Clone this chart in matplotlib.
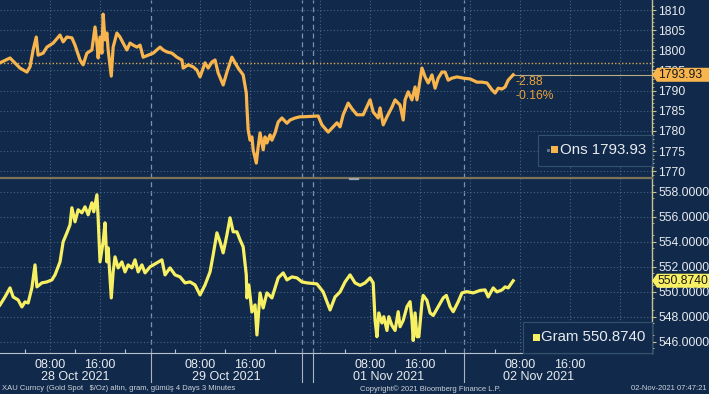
"""
Gold spot (ons) and gram gold, 4 days of 3-minute bars, Bloomberg style
"""

import matplotlib
matplotlib.use("Agg")
import matplotlib.pyplot as plt
from matplotlib.patches import Rectangle, Polygon
from matplotlib.lines import Line2D
from matplotlib.transforms import IdentityTransform, blended_transform_factory

plt.rcParams['font.family'] = ['Liberation Sans', 'DejaVu Sans']

# time axis: hours on the compressed session axis (0 = 28 Oct 00:00, weekend squeezed out)
ons_hours = [0.0, 1.6, 3.2, 4.3, 4.8, 5.3, 5.8, 6.1, 6.9, 7.5, 8.5, 9.6, 10.1, 10.7, 11.5, 12.0,
             12.8, 13.3, 13.9, 14.7, 15.2, 15.5, 15.7, 16.0, 16.3, 16.5, 16.8, 17.1, 17.3, 17.8,
             18.1, 18.7, 19.2, 19.7, 20.3, 20.8, 21.3, 21.9, 22.4, 22.9, 23.7, 24.5, 25.6, 26.1,
             26.7, 27.5, 28.3, 29.1, 29.3, 30.1, 30.9, 31.5, 32.0, 32.8, 33.3, 33.9, 34.4, 34.9,
             35.7, 36.3, 37.1, 37.6, 38.1, 38.9, 39.4, 39.5, 39.7, 40.0, 40.3, 40.5, 41.0, 41.3,
             41.6, 42.1, 42.4, 42.7, 43.2, 43.5, 44.0, 44.5, 45.1, 45.9, 46.4, 47.2, 48.0, 48.5,
             50.9, 51.5, 52.5, 53.1, 53.9, 54.4, 54.9, 55.7, 56.3, 57.1, 58.1, 59.2, 59.7, 60.5,
             60.8, 61.3, 61.9, 62.7, 63.2, 64.0, 64.5, 64.8, 65.3, 65.9, 66.4, 66.7, 67.2, 67.5,
             68.0, 68.5, 69.1, 69.6, 70.1, 70.7, 71.2, 71.7, 72.3, 73.1, 74.1, 75.2, 76.3, 77.1,
             77.9, 78.7, 79.2, 79.7, 80.3, 80.8, 81.3, 82.1]
ons_price = [1796.9, 1798.1, 1795.6, 1794.6, 1795.9, 1800.1, 1803.3, 1798.8, 1799.3, 1800.8,
             1801.8, 1803.8, 1802.1, 1803.3, 1803.1, 1801.3, 1797.6, 1796.4, 1799.3, 1800.1,
             1805.8, 1801.8, 1798.1, 1803.3, 1799.3, 1809.0, 1802.6, 1804.3, 1800.1, 1793.6,
             1800.8, 1804.3, 1803.3, 1801.8, 1800.1, 1801.8, 1801.3, 1800.8, 1801.3, 1798.3,
             1798.8, 1799.3, 1800.8, 1800.1, 1799.6, 1799.3, 1798.3, 1797.6, 1795.6, 1796.4,
             1795.9, 1795.1, 1793.4, 1796.9, 1795.6, 1797.1, 1797.6, 1794.4, 1791.4, 1794.6,
             1798.3, 1796.9, 1795.6, 1793.9, 1789.4, 1785.9, 1780.2, 1777.7, 1778.5, 1775.3,
             1772.0, 1776.0, 1779.5, 1775.3, 1778.5, 1777.0, 1779.0, 1777.7, 1779.5, 1782.2,
             1783.2, 1781.9, 1782.7, 1783.2, 1783.5, 1783.5, 1783.7, 1781.5, 1779.7, 1780.7,
             1782.0, 1781.0, 1784.0, 1786.9, 1785.5, 1784.0, 1784.0, 1787.7, 1784.7, 1783.2,
             1785.7, 1781.5, 1783.5, 1785.9, 1787.7, 1786.4, 1782.7, 1787.7, 1789.7, 1787.7,
             1790.9, 1787.7, 1792.6, 1795.6, 1793.4, 1791.9, 1793.9, 1790.6, 1793.1, 1794.6,
             1794.6, 1792.6, 1793.1, 1793.4, 1793.1, 1792.9, 1792.1, 1792.1, 1791.9, 1790.2,
             1789.4, 1790.6, 1790.4, 1790.9, 1792.6, 1793.93]

gram_hours = [0.0, 0.8, 1.6, 2.1, 2.9, 3.5, 4.0, 4.5, 5.1, 5.6, 5.9, 6.7, 7.5, 8.3, 8.8, 9.6,
              10.1, 10.7, 11.2, 11.5, 12.0, 12.5, 13.1, 13.6, 14.1, 14.7, 15.0, 15.5, 15.7, 16.0,
              16.5, 16.8, 17.1, 17.3, 17.8, 18.1, 18.4, 18.9, 19.5, 20.0, 20.5, 21.1, 21.6, 22.1,
              22.7, 23.2, 24.0, 25.1, 25.9, 26.4, 27.2, 28.0, 28.8, 29.6, 30.4, 31.2, 32.0, 32.8,
              33.6, 34.1, 34.7, 35.2, 35.7, 36.3, 36.8, 37.3, 37.9, 38.4, 38.9, 39.4, 39.5, 39.8,
              40.3, 40.8, 41.1, 41.6, 42.1, 42.7, 43.5, 44.0, 44.5, 45.3, 45.9, 46.7, 47.5, 48.3,
              49.1, 50.7, 51.7, 52.8, 53.6, 54.4, 55.2, 56.0, 56.8, 57.6, 58.4, 59.2, 59.7, 60.0,
              60.3, 60.6, 61.1, 61.4, 61.9, 62.2, 62.7, 63.2, 63.7, 64.0, 64.5, 65.1, 65.6, 65.9,
              66.1, 66.4, 66.7, 67.0, 67.5, 67.7, 68.3, 68.8, 69.3, 70.1, 70.9, 71.4, 72.0, 72.5,
              73.3, 73.9, 74.7, 75.7, 76.8, 77.6, 78.1, 78.9, 79.5, 80.3, 80.8, 81.3, 82.1]
gram_price = [548.94, 549.58, 550.30, 549.58, 549.34, 548.78, 549.18, 549.10, 550.30, 552.14,
              550.38, 550.70, 550.78, 550.94, 551.34, 552.38, 553.98, 554.70, 555.34, 556.70,
              555.58, 556.54, 556.30, 556.78, 556.14, 557.10, 556.38, 557.74, 555.90, 552.38,
              553.98, 555.50, 552.38, 553.50, 549.50, 551.58, 552.78, 551.90, 552.38, 551.58,
              552.14, 551.90, 552.54, 551.58, 552.14, 551.50, 551.98, 552.30, 552.54, 551.34,
              551.90, 551.34, 551.18, 550.70, 550.78, 550.54, 549.74, 550.54, 551.58, 552.94,
              554.70, 553.98, 553.10, 554.54, 555.90, 554.78, 554.78, 554.14, 553.58, 551.34,
              549.50, 550.54, 548.38, 548.94, 546.54, 549.90, 548.70, 549.90, 549.50, 550.30,
              551.10, 551.50, 550.94, 551.18, 551.10, 550.78, 550.70, 550.62, 549.98, 548.54,
              549.58, 549.98, 550.78, 551.34, 550.70, 550.50, 550.70, 551.10, 550.70, 547.70,
              546.40, 548.30, 547.50, 548.00, 546.90, 548.00, 547.30, 546.90, 548.40, 547.20,
              547.70, 548.80, 549.20, 547.70, 546.10, 548.30, 546.40, 546.40, 549.10, 549.70,
              549.30, 548.30, 548.10, 548.80, 549.50, 549.70, 548.80, 548.40, 549.20, 549.90,
              550.00, 549.90, 550.10, 550.14, 549.58, 550.30, 549.98, 550.14, 550.38, 550.30,
              550.874]

ons_prev_close = 1796.81
ons_change = -2.88
ons_change_pct = -0.16

ons_ticks = [1770, 1775, 1780, 1785, 1790, 1795, 1800, 1805, 1810]
gram_ticks = [546, 548, 550, 552, 554, 556, 558]

time_ticks = [8, 16, 32, 40, 59.2, 67.2, 83.2, 91.2]
time_labels = ['08:00', '16:00', '08:00', '16:00', '08:00', '16:00', '08:00', '16:00']
minor_time_ticks = [4, 12, 20, 28, 36, 44, 55.2, 63.2, 71.2, 79.2, 87.2, 95.2, 103.2]
date_pos = [12, 36.2, 62.1, 86.1]
date_labels = ['28 Oct 2021', '29 Oct 2021', '01 Nov 2021', '02 Nov 2021']
grid_hours = [8, 16, 32, 40, 51.2, 59.2, 67.2, 75.2, 83.2, 91.2, 99.2]
session_breaks = [24.2, 48.3, 50.1, 74.2]

BG = '#112a4b'
GRID = '#4b6584'
TXT = '#e8ebef'
ORANGE = '#f8b54e'
YELLOW = '#f7f063'
AXIS = '#c9c28e'

W, H = 709, 394
X_MAX = 104.3


def fy(py):
    return 1 - py / H


fig = plt.figure(figsize=(W / 100, H / 100), dpi=100, facecolor=BG)
ax1 = fig.add_axes([0, fy(178), 652 / W, 178 / H], facecolor=BG)
ax2 = fig.add_axes([0, fy(353), 652 / W, (353 - 179) / H], facecolor=BG)

for ax in (ax1, ax2):
    ax.set_xlim(0, X_MAX)
    for side in ('top', 'left', 'bottom'):
        ax.spines[side].set_visible(False)
    ax.spines['right'].set_color(AXIS)
    ax.spines['right'].set_linewidth(1.0)
    ax.yaxis.tick_right()
    ax.tick_params(axis='y', which='major', colors=AXIS, labelcolor=TXT, labelsize=8.7,
                   length=3, width=0.8, pad=1.5, direction='out')
    ax.tick_params(axis='y', which='minor', colors=AXIS, length=1.5, width=0.6)
    ax.grid(axis='y', color=GRID, linestyle=(0, (1, 2)), linewidth=0.8)
    for h in grid_hours:
        ax.axvline(h, color=GRID, linestyle=(0, (1, 2)), linewidth=0.8, zorder=1)
    for h in session_breaks:
        ax.axvline(h, color='#7c93b0', linestyle=(0, (4, 3)), linewidth=0.9, zorder=1)

ax1.set_ylim(1768.3, 1812.5)
ax1.set_yticks(ons_ticks)
ax1.set_yticks(range(1769, 1812), minor=True)
ax1.set_xticks([])

ax2.set_ylim(545.1, 559.0)
ax2.set_yticks(gram_ticks)
ax2.set_yticklabels([f"{v:.4f}" for v in gram_ticks])
ax2.set_yticks([v + 0.5 for v in range(545, 559)], minor=True)
ax2.spines['bottom'].set_visible(True)
ax2.spines['bottom'].set_color('#b8c2cf')
ax2.spines['bottom'].set_linewidth(0.8)
ax2.set_xticks(time_ticks)
ax2.set_xticklabels(time_labels)
ax2.set_xticks(minor_time_ticks, minor=True)
ax2.tick_params(axis='x', which='major', length=0, labelsize=9, labelcolor=TXT, pad=4)
ax2.tick_params(axis='x', which='minor', length=3, width=0.8, direction='in', colors='#b8c2cf')

# series
ax1.plot(ons_hours, ons_price, color=ORANGE, linewidth=2.3, solid_joinstyle='round', zorder=3)
ax2.plot(gram_hours, gram_price, color=YELLOW, linewidth=2.3, solid_joinstyle='round', zorder=3)

# previous close and last price
ax1.axhline(ons_prev_close, color='#d8a85a', linestyle=(0, (1, 1.5)), linewidth=1.0, zorder=2)
ons_last = ons_price[-1]
gram_last = gram_price[-1]
ax1.plot([ons_hours[-1], X_MAX], [ons_last, ons_last], color='#b9ab88', linewidth=0.8, zorder=2)
ax1.text(ons_hours[-1] + 0.4, 1792.1, f"{ons_change:.2f}", color='#e9a23c', fontsize=8.7, va='center')
ax1.text(ons_hours[-1] + 0.4, 1788.7, f"{ons_change_pct:.2f}%", color='#e9a23c', fontsize=8.7, va='center')

# legend boxes
fig.patches.append(Rectangle((538 / W, fy(166)), 114 / W, 31 / H, transform=fig.transFigure,
                             facecolor=BG, edgecolor='#34506f', linewidth=0.8, zorder=5))
fig.patches.append(Rectangle((547 / W, fy(151.5)), 3 / W, 3 / H, transform=fig.transFigure,
                             facecolor='#5b7393', edgecolor='none', zorder=6))
fig.patches.append(Rectangle((551 / W, fy(153.5)), 7 / W, 7 / H, transform=fig.transFigure,
                             facecolor=ORANGE, edgecolor='none', zorder=6))
fig.text(560 / W, fy(150), f"Ons {ons_last:.2f}", color=TXT, fontsize=10.8, va='center', zorder=7)

fig.patches.append(Rectangle((523 / W, fy(353)), 129 / W, 31 / H, transform=fig.transFigure,
                             facecolor=BG, edgecolor='#34506f', linewidth=0.8, zorder=5))
fig.patches.append(Rectangle((533 / W, fy(340.5)), 7 / W, 7 / H, transform=fig.transFigure,
                             facecolor=YELLOW, edgecolor='none', zorder=6))
fig.text(541 / W, fy(337), f"Gram {gram_last:.4f}", color=TXT, fontsize=10.8, va='center', zorder=7)


# price tags on the right axis
def price_tag(ax, value, text, color):
    fig.canvas.draw()
    yd = ax.transData.transform((0, value))[1]
    x0 = 652
    pts = [(x0, yd), (x0 + 5, yd + 7), (W, yd + 7), (W, yd - 7), (x0 + 5, yd - 7)]
    fig.patches.append(Polygon(pts, closed=True, transform=IdentityTransform(),
                               facecolor=color, edgecolor='none', zorder=8))
    fig.text((x0 + 6) / W, yd / H, text, color='#1a1a1a', fontsize=8.7, va='center', zorder=9)


price_tag(ax1, ons_last, f"{ons_last:.2f}", ORANGE)
price_tag(ax2, gram_last, f"{gram_last:.4f}", YELLOW)

# date labels and session separators under the time axis
trans = blended_transform_factory(ax2.transData, ax2.transAxes)
for pos, lab in zip(date_pos, date_labels):
    ax2.text(pos, -0.14, lab, transform=trans, color=TXT, fontsize=9, ha='center', va='center')
for h in session_breaks:
    ax2.add_line(Line2D([h, h], [0, -0.167], transform=trans, color='#aab4c2',
                        linewidth=0.8, clip_on=False))

# panel divider
fig.add_artist(Line2D([0, 652 / W], [fy(178.5), fy(178.5)], color='#7d7358', linewidth=1.6))
fig.add_artist(Line2D([350 / W, 358 / W], [fy(179), fy(179)], color='#9aa4b0', linewidth=1.6))

# footer
fig.text(2 / W, fy(389), "XAU Curncy (Gold Spot   $/Oz) altın, gram, gümüş 4 Days 3 Minutes",
         color='#cdd2da', fontsize=5.5, va='center')
fig.text(430 / W, fy(389), "Copyright© 2021 Bloomberg Finance L.P.", color='#cdd2da',
         fontsize=5.5, va='center', ha='center')
fig.text(707 / W, fy(389), "02-Nov-2021 07:47:21", color='#cdd2da', fontsize=5.5,
         va='center', ha='right')

fig.savefig("out.png", dpi=100, facecolor=BG)
